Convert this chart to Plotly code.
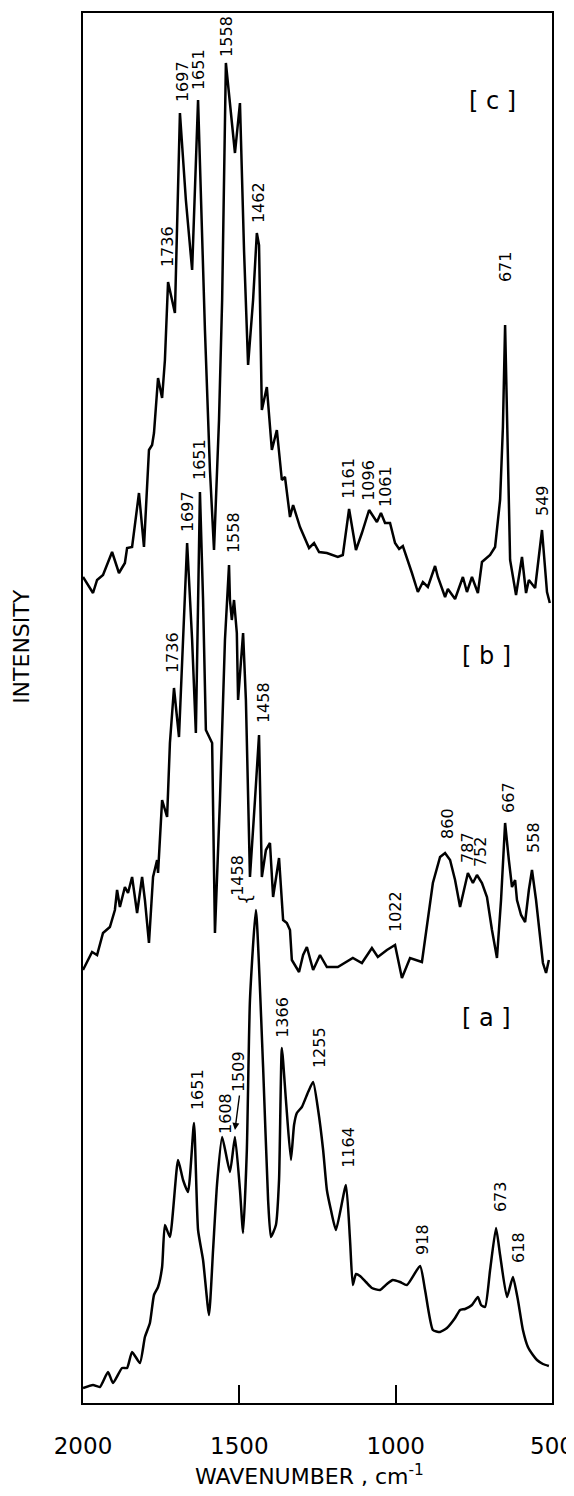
import plotly.graph_objects as go

# ---------------- data ----------------
# spectrum [c]
wn_c = [2000, 1968, 1955, 1936, 1907, 1885, 1866, 1859, 1843, 1840, 1821, 1805, 1789, 1779, 1773,
        1760, 1747, 1738, 1731, 1728, 1706, 1690, 1671, 1651, 1632, 1610, 1594, 1581, 1565, 1555,
        1543, 1527, 1514, 1498, 1485, 1472, 1456, 1444, 1437, 1428, 1412, 1396, 1380, 1364, 1354,
        1338, 1328, 1306, 1277, 1261, 1245, 1220, 1185, 1169, 1149, 1127, 1108, 1085, 1060, 1047,
        1034, 1018, 1002, 989, 977, 948, 929, 913, 897, 874, 865, 842, 833, 810, 785, 772, 756,
        737, 724, 698, 682, 666, 657, 650, 644, 634, 615, 596, 583, 574, 554, 532, 516, 507]
int_c = [33, 17, 30, 35, 58, 37, 47, 62, 63, 70, 117, 63, 160, 165, 177,
         232, 212, 250, 297, 328, 297, 497, 410, 340, 510, 280, 140, 60, 190, 310,
         547, 500, 457, 507, 360, 245, 310, 377, 365, 200, 223, 160, 180, 130, 133,
         93, 105, 83, 62, 67, 58, 57, 53, 55, 101, 60, 77, 100, 88, 97,
         87, 87, 67, 61, 64, 37, 18, 28, 23, 44, 33, 13, 21, 11, 33, 18, 33,
         17, 48, 55, 63, 110, 183, 285, 190, 50, 15, 53, 17, 30, 22, 80, 18, 7]

# spectrum [b]
wn_b = [2000, 1971, 1955, 1936, 1914, 1898, 1891, 1882, 1866, 1856, 1843, 1827, 1811, 1802, 1789,
        1776, 1763, 1760, 1747, 1731, 1722, 1709, 1693, 1680, 1667, 1651, 1639, 1626, 1616, 1607,
        1587, 1578, 1562, 1546, 1533, 1530, 1524, 1517, 1508, 1504, 1488, 1479, 1466, 1450, 1437,
        1428, 1415, 1402, 1392, 1373, 1360, 1348, 1338, 1332, 1309, 1296, 1284, 1264, 1242, 1220,
        1185, 1137, 1108, 1076, 1057, 1028, 1002, 980, 954, 916, 897, 881, 858, 842, 826, 810,
        794, 778, 769, 753, 740, 724, 708, 692, 676, 663, 650, 638, 628, 618, 612, 599, 586,
        574, 564, 551, 538, 529, 519, 510]
int_b = [10, 28, 25, 47, 53, 70, 90, 73, 93, 87, 103, 67, 103, 80, 37,
         103, 120, 107, 180, 163, 237, 292, 243, 340, 437, 340, 247, 488, 380, 250,
         237, 47, 180, 340, 415, 380, 360, 380, 347, 280, 347, 280, 103, 180, 245,
         103, 130, 137, 83, 122, 60, 57, 50, 20, 8, 25, 33, 10, 25, 13,
         13, 22, 17, 32, 23, 30, 35, 2, 22, 18, 60, 97, 123, 127, 120, 100,
         73, 95, 107, 97, 105, 97, 83, 50, 22, 80, 157, 120, 93, 100, 80, 65, 58,
         90, 110, 80, 40, 17, 7, 20]

# spectrum [a]
wn_a = [2000, 1968, 1946, 1920, 1904, 1875, 1859, 1843, 1818, 1802, 1786, 1773, 1760, 1747, 1738,
        1722, 1696, 1680, 1664, 1645, 1632, 1616, 1597, 1584, 1571, 1555, 1530, 1514, 1498, 1488,
        1476, 1466, 1447, 1424, 1408, 1399, 1383, 1373, 1364, 1351, 1335, 1325, 1316, 1300, 1280,
        1264, 1248, 1232, 1220, 1207, 1191, 1159, 1146, 1137, 1127, 1114, 1095, 1076, 1050, 1028,
        1009, 986, 964, 922, 906, 881, 858, 836, 810, 794, 778, 756, 737, 727, 714, 698, 679,
        666, 644, 625, 609, 593, 577, 561, 548, 529, 510]
int_a = [2, 5, 3, 18, 7, 22, 22, 38, 27, 53, 67, 95, 103, 123, 165,
         153, 230, 210, 198, 267, 160, 130, 75, 140, 207, 253, 218, 253, 200, 157,
         240, 390, 480, 323, 190, 153, 165, 210, 342, 290, 230, 265, 277, 283, 298,
         308, 280, 240, 200, 180, 160, 205, 150, 105, 116, 114, 108, 102, 100, 106,
         110, 108, 105, 124, 100, 60, 58, 62, 72, 80, 81, 85, 93, 85, 83, 120, 162,
         135, 93, 113, 90, 60, 43, 35, 30, 26, 24]

# vertical offsets of the stacked spectra
offset_c = 793
offset_b = 423
offset_a = 13

tick_vals = [2000, 1500, 1000, 500]
tick_text = ["2000", "1500", "1000", "500"]

# peak labels: (text, wavenumber position, height position)
labels_c = [("1736", 1731, 1156), ("1697", 1683, 1321), ("1651", 1632, 1333), ("1558", 1543, 1367),
            ("1462", 1440, 1200), ("1161", 1153, 925), ("1096", 1089, 923), ("1061", 1034, 916),
            ("671", 650, 1136), ("549", 532, 903)]
labels_b = [("1736", 1715, 750), ("1697", 1667, 891), ("1651", 1629, 943), ("1558", 1520, 870),
            ("1458", 1424, 700), ("1022", 1002, 491), ("860", 836, 580), ("787", 772, 556),
            ("752", 730, 551), ("667", 641, 606), ("558", 561, 566)]
labels_a = [("1458", 1508, 528), ("1366", 1364, 386), ("1255", 1245, 355), ("1651", 1635, 313),
            ("1608", 1546, 290), ("1509", 1504, 331), ("1164", 1153, 256), ("918", 916, 164),
            ("673", 666, 206), ("618", 609, 156)]
panel_tags = [("[ c ]", 689, 1302), ("[ b ]", 708, 747), ("[ a ]", 708, 385)]

FONT = "DejaVu Sans"

fig = go.Figure()
for wn, inten, off, shape in [(wn_c, int_c, offset_c, "linear"), (wn_b, int_b, offset_b, "linear"),
                              (wn_a, int_a, offset_a, "spline")]:
    fig.add_trace(go.Scatter(x=wn, y=[v + off for v in inten], mode="lines",
                             line=dict(color="black", width=2.5, shape=shape, smoothing=0.5),
                             hoverinfo="skip", showlegend=False))

for txt, x, y in labels_c + labels_b + labels_a:
    fig.add_annotation(x=x, y=y, text=txt, textangle=-90, showarrow=False,
                       font=dict(family=FONT, size=16, color="black"),
                       xanchor="center", yanchor="middle")

# brace under the 1458 label of [a]
fig.add_annotation(x=1482, y=504, text="{", textangle=-90, showarrow=False,
                   font=dict(family=FONT, size=18, color="black"))
# arrow to the 1509 peak of [a]
fig.add_annotation(x=1514, y=273, ax=1499, ay=309, axref="x", ayref="y", xref="x", yref="y",
                   text="", showarrow=True, arrowhead=2, arrowsize=1, arrowwidth=1.4,
                   arrowcolor="black")

for txt, x, y in panel_tags:
    fig.add_annotation(x=x, y=y, text=txt, showarrow=False,
                       font=dict(family=FONT, size=24, color="black"))

# axis titles
fig.add_annotation(xref="paper", yref="paper", x=0.484, y=-0.0515,
                   text="WAVENUMBER , cm<sup>-1</sup>",
                   showarrow=False, font=dict(family=FONT, size=22, color="black"),
                   xanchor="center", yanchor="middle")
fig.add_annotation(xref="paper", yref="paper", x=-0.13, y=0.544, text="INTENSITY", textangle=-90,
                   showarrow=False, font=dict(family=FONT, size=22, color="black"),
                   xanchor="center", yanchor="middle")

# the page body adds an 8 px margin, so the figure is sized to fill the rest of the window
fig.update_layout(width=566, height=1480, margin=dict(l=75, r=22, t=5, b=85, autoexpand=False),
                  plot_bgcolor="white", paper_bgcolor="white", showlegend=False)
fig.update_xaxes(range=[2000, 500], tickvals=tick_vals, ticktext=tick_text, ticks="inside",
                 ticklen=18, tickwidth=2, tickcolor="black", showline=True, linewidth=2,
                 linecolor="black", mirror=True, showgrid=False, zeroline=False, automargin=False,
                 tickfont=dict(family=FONT, size=23, color="black"), ticklabelstandoff=21,
                 ticklabeloverflow="allow")
fig.update_yaxes(range=[0, 1390], showticklabels=False, showline=True, linewidth=2,
                 linecolor="black", mirror=True, showgrid=False, zeroline=False, ticks="",
                 automargin=False)

fig.write_html("out.html")
